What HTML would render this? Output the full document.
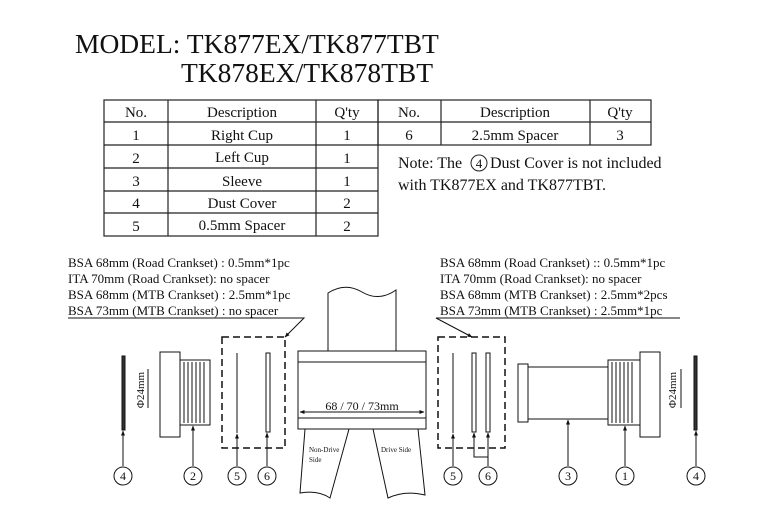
<!DOCTYPE html>
<html><head><meta charset="utf-8"><style>
body{margin:0;background:#fff}
svg{display:block}
text{font-family:"Liberation Serif",serif;fill:#111}
</style></head><body>
<svg width="778" height="512" viewBox="0 0 778 512" xmlns="http://www.w3.org/2000/svg">
<defs><marker id="a" viewBox="0 0 10 10" refX="9" refY="5" markerWidth="5" markerHeight="6" orient="auto"><path d="M0 1L10 5L0 9z" fill="#111"/></marker></defs>
<text x="75" y="53" font-size="27.5">MODEL: TK877EX/TK877TBT</text>
<text x="181" y="82" font-size="27.5">TK878EX/TK878TBT</text>
<g stroke="#222" stroke-width="1.2" fill="none">
<rect x="104" y="100" width="274" height="136"/>
<line x1="168" y1="100" x2="168" y2="236"/><line x1="316" y1="100" x2="316" y2="236"/>
<line x1="104" y1="122" x2="378" y2="122"/><line x1="104" y1="145" x2="378" y2="145"/>
<line x1="104" y1="168" x2="378" y2="168"/><line x1="104" y1="191" x2="378" y2="191"/>
<line x1="104" y1="213" x2="378" y2="213"/>
<rect x="378" y="100" width="273" height="45"/>
<line x1="441" y1="100" x2="441" y2="145"/><line x1="590" y1="100" x2="590" y2="145"/>
<line x1="378" y1="122" x2="651" y2="122"/>
</g>
<g font-size="15" text-anchor="middle">
<text x="136" y="117">No.</text><text x="242" y="117">Description</text><text x="347" y="117">Q'ty</text>
<text x="409" y="117">No.</text><text x="515" y="117">Description</text><text x="620" y="117">Q'ty</text>
<text x="136" y="140">1</text><text x="242" y="140">Right Cup</text><text x="347" y="140">1</text>
<text x="409" y="140">6</text><text x="515" y="140">2.5mm Spacer</text><text x="620" y="140">3</text>
<text x="136" y="163">2</text><text x="242" y="162">Left Cup</text><text x="347" y="163">1</text>
<text x="136" y="186">3</text><text x="242" y="186">Sleeve</text><text x="347" y="186">1</text>
<text x="136" y="208">4</text><text x="242" y="208">Dust Cover</text><text x="347" y="208">2</text>
<text x="136" y="231">5</text><text x="242" y="230">0.5mm Spacer</text><text x="347" y="231">2</text>
</g>
<text x="398" y="168" font-size="16">Note: The</text>
<circle cx="479" cy="163" r="8" fill="none" stroke="#222"/>
<text x="479" y="168" font-size="13" text-anchor="middle">4</text>
<text x="490" y="168" font-size="16">Dust Cover is not included</text>
<text x="398" y="190" font-size="16">with TK877EX and TK877TBT.</text>

<g font-size="13">
<text x="68" y="267">BSA 68mm (Road Crankset) : 0.5mm*1pc</text>
<text x="68" y="283">ITA 70mm (Road Crankset): no spacer</text>
<text x="68" y="299">BSA 68mm (MTB Crankset) : 2.5mm*1pc</text>
<text x="68" y="315">BSA 73mm (MTB Crankset) : no spacer</text>
<text x="440" y="267">BSA 68mm (Road Crankset) :: 0.5mm*1pc</text>
<text x="440" y="283">ITA 70mm (Road Crankset): no spacer</text>
<text x="440" y="299">BSA 68mm (MTB Crankset) : 2.5mm*2pcs</text>
<text x="440" y="315">BSA 73mm (MTB Crankset) : 2.5mm*1pc</text>
</g>
<g stroke="#111" fill="none" stroke-width="1">
<polyline points="68,318 304,318 285,337" marker-end="url(#a)"/>
<polyline points="680,318 436,318 472,337" marker-end="url(#a)"/>
<rect x="222" y="337" width="63" height="111" stroke-dasharray="7,4" stroke-width="1.5"/>
<rect x="438" y="337" width="67" height="111" stroke-dasharray="7,4" stroke-width="1.5"/>
<rect x="122" y="356" width="3" height="74" fill="#333"/>
<line x1="237" y1="353" x2="237" y2="433"/>
<rect x="266" y="353" width="4" height="79"/>
<rect x="160" y="352" width="20" height="85"/>
<rect x="180" y="360" width="30" height="65"/>
<path d="M184 362V423M188 362V423M192 362V423M196 362V423M200 362V423M204 362V423"/>
<line x1="148" y1="369" x2="148" y2="408"/>
<text x="144" y="390" font-size="11" transform="rotate(-90 144 390)" text-anchor="middle" stroke="none">Φ24mm</text>
<path d="M328 351V293Q345 282 362 292T396 290V351"/>
<rect x="298" y="351" width="128" height="78"/>
<line x1="298" y1="362" x2="426" y2="362"/><line x1="298" y1="418" x2="426" y2="418"/>
<line x1="362" y1="412" x2="300" y2="412" marker-end="url(#a)"/>
<line x1="362" y1="412" x2="424" y2="412" marker-end="url(#a)"/>
<path d="M305 429L300 493Q318 490 330 498L349 429"/>
<path d="M373 429L388 498Q405 490 425 495L418 429"/>
<text x="362" y="410" font-size="12" text-anchor="middle" stroke="none">68 / 70 / 73mm</text>
<text x="309" y="452" font-size="7" stroke="none">Non-Drive</text>
<text x="309" y="462" font-size="7" stroke="none">Side</text>
<text x="381" y="452" font-size="7" stroke="none">Drive Side</text>
<line x1="453" y1="353" x2="453" y2="433"/>
<rect x="472" y="353" width="4" height="79"/>
<rect x="486" y="353" width="4" height="79"/>
<rect x="518" y="364" width="10" height="58"/>
<rect x="528" y="367" width="80" height="52"/>
<rect x="608" y="360" width="32" height="65"/>
<path d="M612 362V423M616 362V423M620 362V423M624 362V423M628 362V423M632 362V423"/>
<rect x="640" y="352" width="20" height="85"/>
<rect x="694" y="356" width="3" height="74" fill="#333"/>
<line x1="681" y1="369" x2="681" y2="408"/>
<text x="676" y="390" font-size="11" transform="rotate(-90 676 390)" text-anchor="middle" stroke="none">Φ24mm</text>
<g marker-end="url(#a)">
<path d="M123 466V431"/><path d="M193 466V426"/><path d="M237 466V434"/><path d="M267 466V433"/>
<path d="M453 466V434"/><path d="M488 457H474V433"/><path d="M488 466V433"/>
<path d="M568 466V420"/><path d="M625 466V426"/><path d="M696 466V431"/>
</g>
</g>
<g fill="none" stroke="#111">
<circle cx="123" cy="476" r="9"/><circle cx="193" cy="476" r="9"/><circle cx="237" cy="476" r="9"/><circle cx="267" cy="476" r="9"/>
<circle cx="453" cy="476" r="9"/><circle cx="488" cy="476" r="9"/><circle cx="568" cy="476" r="9"/><circle cx="625" cy="476" r="9"/><circle cx="696" cy="476" r="9"/>
</g>
<g font-size="12" text-anchor="middle">
<text x="123" y="480">4</text><text x="193" y="480">2</text><text x="237" y="480">5</text><text x="267" y="480">6</text>
<text x="453" y="480">5</text><text x="488" y="480">6</text><text x="568" y="480">3</text><text x="625" y="480">1</text><text x="696" y="480">4</text>
</g>
</svg>
</body></html>
